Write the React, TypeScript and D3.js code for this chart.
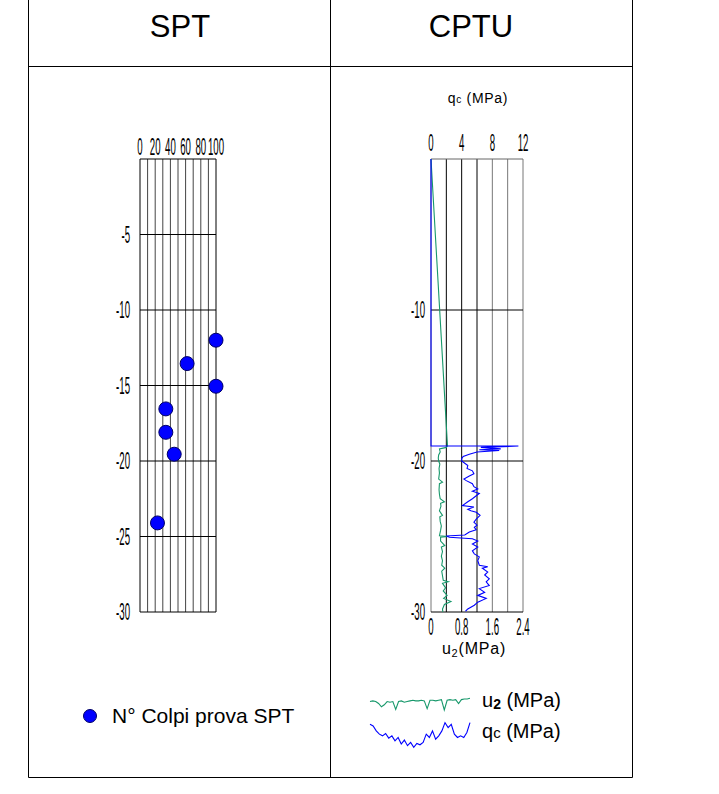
import React from "react";
import * as d3 from "d3";

// ---------- data ----------
const sptValues = [100, 62, 100, 34, 34, 45, 23];
const sptDepths = [12.0, 13.55, 15.05, 16.55, 18.1, 19.55, 24.1];
const sptXTicks = [0, 20, 40, 60, 80, 100];
const sptDepthTicks = [5, 10, 15, 20, 25, 30];

const qcDepths = [0, 19.0, 19.01, 19.1, 19.2, 19.25, 19.3, 19.4, 19.55, 19.7, 19.85, 20.0, 20.3, 20.5, 20.65, 20.85, 21.0, 21.2, 21.3, 21.5, 21.7, 21.85, 22.0, 22.15, 22.3, 22.5, 22.7, 22.95, 23.05, 23.2, 23.3, 23.4, 23.6, 23.85, 24.05, 24.25, 24.4, 24.55, 24.7, 24.9, 24.97, 25.05, 25.15, 25.3, 25.5, 25.7, 25.95, 26.15, 26.35, 26.6, 26.9, 27.0, 27.1, 27.35, 27.55, 27.8, 28.0, 28.25, 28.45, 28.7, 28.9, 29.1, 29.35, 29.55, 29.8, 29.95];
const qcValues = [0, 0, 11.4, 6.5, 9.1, 6.3, 8.9, 6.0, 5.0, 4.2, 4.0, 4.0, 4.8, 4.7, 5.4, 5.6, 5.0, 4.3, 4.6, 5.4, 5.6, 6.1, 5.4, 6.3, 5.9, 5.4, 4.8, 4.1, 5.6, 4.8, 5.2, 5.9, 6.4, 5.9, 5.6, 6.0, 5.65, 5.9, 5.0, 4.4, 2.0, 2.4, 5.4, 6.1, 5.4, 6.1, 5.4, 5.65, 6.3, 6.1, 6.3, 7.4, 6.7, 7.4, 7.0, 7.6, 7.2, 7.6, 6.3, 7.0, 6.1, 7.2, 6.1, 5.65, 4.8, 4.5];

const u2Depths = [0, 19.0, 19.1, 19.2, 19.4, 19.6, 19.8, 20.0, 20.2, 20.5, 20.8, 21.2, 21.4, 21.5, 21.9, 22.2, 22.5, 22.7, 22.8, 23.0, 23.3, 23.6, 23.7, 24.0, 24.3, 24.6, 24.95, 25.0, 25.05, 25.3, 25.6, 25.7, 26.0, 26.3, 26.6, 26.9, 27.1, 27.3, 27.6, 27.9, 28.0, 28.1, 28.4, 28.6, 28.9, 29.1, 29.3, 29.5, 29.8, 30.0];
const u2Values = [0, 0.43, 0.40, 0.22, 0.24, 0.20, 0.19, 0.20, 0.23, 0.21, 0.22, 0.20, 0.30, 0.22, 0.21, 0.22, 0.24, 0.35, 0.25, 0.26, 0.22, 0.30, 0.23, 0.24, 0.27, 0.25, 0.22, 0.45, 0.25, 0.25, 0.36, 0.27, 0.30, 0.27, 0.30, 0.28, 0.36, 0.28, 0.30, 0.32, 0.45, 0.30, 0.38, 0.32, 0.42, 0.33, 0.52, 0.35, 0.30, 0.31];

const qcTicks = [0, 4, 8, 12];
const qcGrid = [0, 2, 4, 6, 8, 10, 12];
const u2Ticks = [0, 0.8, 1.6, 2.4];
const cptDepthTicks = [10, 20, 30];

const legendU2Sample = [0.33, 0.34, 0.33, 0.30, 0.25, 0.28, 0.33, 0.32, 0.33, 0.21, 0.33, 0.34, 0.32, 0.33, 0.34, 0.35, 0.34, 0.34, 0.35, 0.34, 0.22, 0.35, 0.35, 0.34, 0.35, 0.36, 0.20, 0.35, 0.36, 0.35, 0.36, 0.30, 0.36, 0.37, 0.37, 0.38];
const legendQcSample = [7.66, 7.41, 6.68, 6.2, 5.95, 6.29, 5.61, 5.95, 5.22, 5.71, 4.73, 5.32, 4.49, 4.98, 4.24, 4.83, 4.63, 4.98, 6.2, 5.71, 6.68, 5.46, 5.95, 6.68, 7.9, 7.17, 7.66, 6.2, 5.71, 5.95, 5.71, 6.44, 7.9];

// ---------- layout ----------
const W = 719, H = 794;
const GREEN = "#17986b";
const BLUE = "#0000ff";
const CAD = "'Liberation Sans', Arial, sans-serif";

const depthY = d3.scaleLinear().domain([0, 30]).range([159, 612]);
const sptX = d3.scaleLinear().domain([0, 100]).range([140, 216]);
const qcX = d3.scaleLinear().domain([0, 12]).range([431, 523]);
const u2X = d3.scaleLinear().domain([0, 2.4]).range([431, 523]);

const Cond = ({ x, y, children, anchor = "middle", size = 23, sx = 0.42 }: any) => (
  <text transform={`translate(${x},${y}) scale(${sx},1)`} textAnchor={anchor} fontSize={size} fontFamily={CAD} fill="#000">
    {children}
  </text>
);

export default function App() {
  const qcLine = d3.line<number>().x((_, i) => qcX(qcValues[i])).y((_, i) => depthY(qcDepths[i]));
  const u2Line = d3.line<number>().x((_, i) => u2X(u2Values[i])).y((_, i) => depthY(u2Depths[i]));

  const lgU2x = d3.scaleLinear().domain([0, legendU2Sample.length - 1]).range([370, 470]);
  const lgU2y = d3.scaleLinear().domain([0.2, 0.4]).range([710, 697]);
  const lgQcx = d3.scaleLinear().domain([0, legendQcSample.length - 1]).range([370, 470]);
  const lgQcy = d3.scaleLinear().domain([4, 8]).range([749, 722]);
  const lgU2 = d3.line<number>().x((_, i) => lgU2x(i)).y((v) => lgU2y(v));
  const lgQc = d3.line<number>().x((_, i) => lgQcx(i)).y((v) => lgQcy(v));

  const sptGrid = d3.range(0, 101, 10);

  return (
    <svg width={W} height={H} style={{ position: "absolute", left: 0, top: 0, background: "#fff" }}>
      {/* table */}
      <g stroke="#000" strokeWidth={1} fill="none">
        <line x1={28.5} y1={0} x2={28.5} y2={777.5} />
        <line x1={632.5} y1={0} x2={632.5} y2={777.5} />
        <line x1={330.5} y1={0} x2={330.5} y2={777.5} />
        <line x1={28.5} y1={66.5} x2={632.5} y2={66.5} />
        <line x1={28.5} y1={777.5} x2={632.5} y2={777.5} />
      </g>
      <text x={180} y={37} textAnchor="middle" fontSize={31} fontFamily="'Liberation Sans', Arial, sans-serif">SPT</text>
      <text x={471} y={37} textAnchor="middle" fontSize={31} fontFamily="'Liberation Sans', Arial, sans-serif">CPTU</text>

      {/* SPT chart */}
      <g>
        {sptGrid.map((v) => (
          <line key={v} x1={sptX(v)} x2={sptX(v)} y1={depthY(0)} y2={depthY(30)} stroke={v === 0 || v === 100 ? "#000" : "#444"} strokeWidth={1} />
        ))}
        {[0, ...sptDepthTicks].map((d) => (
          <line key={d} x1={sptX(0)} x2={sptX(100)} y1={depthY(d)} y2={depthY(d)} stroke="#000" strokeWidth={1} />
        ))}
        {sptXTicks.map((v) => (
          <Cond key={v} x={sptX(v)} y={155}>{v}</Cond>
        ))}
        {sptDepthTicks.map((d) => (
          <Cond key={d} x={130} y={depthY(d) + 8} anchor="end">{`-${d}`}</Cond>
        ))}
        {sptValues.map((v, i) => (
          <circle key={i} cx={sptX(v)} cy={depthY(sptDepths[i])} r={7} fill={BLUE} stroke="#000066" strokeWidth={1} />
        ))}
      </g>

      {/* SPT legend */}
      <circle cx={90} cy={716} r={6.5} fill={BLUE} stroke="#000066" strokeWidth={1} />
      <text x={112} y={723} fontSize={21} fontFamily="'Liberation Sans', Arial, sans-serif">N° Colpi prova SPT</text>

      {/* CPTU chart */}
      <g>
        <text x={478} y={103} textAnchor="middle" fontSize={14} fontFamily={CAD} letterSpacing={0.7}>
          q<tspan fontSize={10}>c</tspan> (MPa)
        </text>
        {qcGrid.map((v) => (
          <line key={v} x1={qcX(v)} x2={qcX(v)} y1={depthY(0)} y2={depthY(30)} stroke={v >= 2 && v <= 6 ? "#000" : "#777"} strokeWidth={1} />
        ))}
        {[0, ...cptDepthTicks].map((d) => (
          <line key={d} x1={qcX(0)} x2={qcX(12)} y1={depthY(d)} y2={depthY(d)} stroke={d === 0 ? "#666" : "#000"} strokeWidth={1} />
        ))}
        {qcTicks.map((v) => (
          <Cond key={v} x={qcX(v)} y={151}>{v}</Cond>
        ))}
        {cptDepthTicks.map((d) => (
          <Cond key={d} x={425} y={depthY(d) + 8} anchor="end">{`-${d}`}</Cond>
        ))}
        {u2Ticks.map((v) => (
          <Cond key={v} x={u2X(v)} y={635}>{v === 0 ? "0" : v.toFixed(1)}</Cond>
        ))}
        <text x={474} y={654} textAnchor="middle" fontSize={16} fontFamily={CAD} letterSpacing={0.8}>
          u<tspan fontSize={11} dy={3}>2</tspan><tspan dy={-3}>(MPa)</tspan>
        </text>
        <path d={u2Line(u2Values) || ""} fill="none" stroke={GREEN} strokeWidth={1.1} />
        <path d={qcLine(qcValues) || ""} fill="none" stroke={BLUE} strokeWidth={1.1} />
      </g>

      {/* CPTU legend */}
      <path d={lgU2(legendU2Sample) || ""} fill="none" stroke={GREEN} strokeWidth={1.1} />
      <path d={lgQc(legendQcSample) || ""} fill="none" stroke={BLUE} strokeWidth={1.1} />
      <text x={482} y={707} fontSize={20} fontFamily="'Liberation Sans', Arial, sans-serif">
        u<tspan fontSize={14} fontWeight="bold" dy={2}>2</tspan><tspan dy={-2}> (MPa)</tspan>
      </text>
      <text x={482} y={738} fontSize={20} fontFamily="'Liberation Sans', Arial, sans-serif">
        q<tspan fontSize={15}>c</tspan> (MPa)
      </text>
    </svg>
  );
}
